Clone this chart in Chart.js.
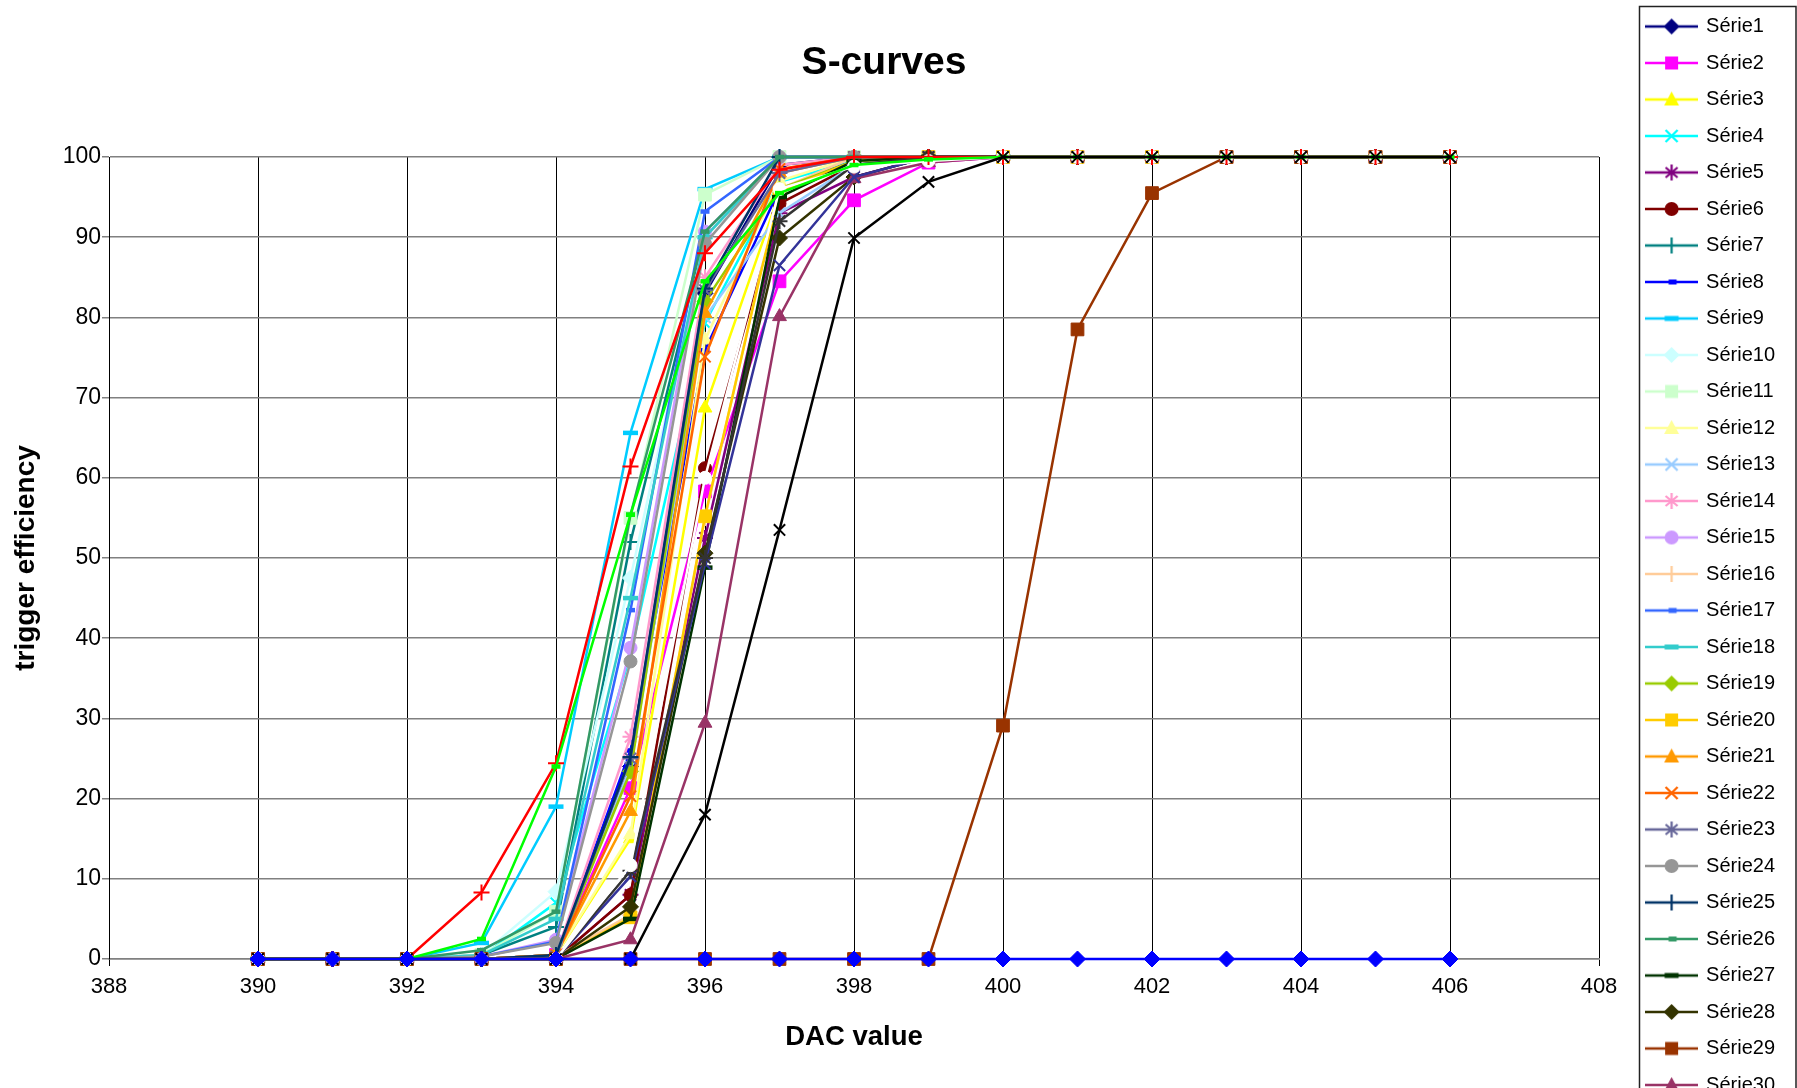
<!DOCTYPE html>
<html>
<head>
<meta charset="utf-8">
<script src="https://cdn.jsdelivr.net/npm/chart.js@4.4.1/dist/chart.umd.min.js"></script>
<style>
html,body{margin:0;padding:0;background:#fff;overflow:hidden;}
#wrap{width:1797px;height:1088px;overflow:hidden;position:relative;background:#fff;}
canvas{display:block;}
</style>
</head>
<body>
<div id="wrap"><canvas id="c" width="1797" height="1420"></canvas></div>
<script>
// ---------- data ----------
const chartTitle = 'S-curves';
const xAxisTitle = 'DAC value';
const yAxisTitle = 'trigger efficiency';
const dacValues = [390,391,392,393,394,395,396,397,398,399,400,401,402,403,404,405,406];
const seriesNames = ['Série1','Série2','Série3','Série4','Série5','Série6','Série7','Série8','Série9','Série10',
  'Série11','Série12','Série13','Série14','Série15','Série16','Série17','Série18','Série19','Série20',
  'Série21','Série22','Série23','Série24','Série25','Série26','Série27','Série28','Série29','Série30',
  'Série31','Série32','Série33','Série34','Série35','Série36','Série37'];

const serie1  = [0,0,0,0,0.5,24,83,99,100,100,100,100,100,100,100,100,100];
const serie2  = [0,0,0,0,0.5,21.3,58.3,84.5,94.6,99.3,100,100,100,100,100,100,100];
const serie3  = [0,0,0,0,0.5,15,68.7,95.5,99.5,100,100,100,100,100,100,100,100];
const serie4  = [0,0,0,0.3,7,38,79.3,96.9,99.5,100,100,100,100,100,100,100,100];
const serie5  = [0,0,0,0,0,8,52.5,93,97.5,100,100,100,100,100,100,100,100];
const serie6  = [0,0,0,0,0,8,61.2,94.2,99,100,100,100,100,100,100,100,100];
const serie7  = [0,0,0,0.5,4,52,90,100,100,100,100,100,100,100,100,100,100];
const serie8  = [0,0,0,0,0.5,26,75.9,96,99.5,100,100,100,100,100,100,100,100];
const serie9  = [0,0,0,2,19,65.6,96,100,100,100,100,100,100,100,100,100,100];
const serie10 = [0,0,0,0.5,8.4,47.5,90,100,100,100,100,100,100,100,100,100,100];
const serie11 = [0,0,0,0.5,5.9,55,95.3,100,100,100,100,100,100,100,100,100,100];
const serie12 = [0,0,0,0,0.5,15.5,77.2,97,100,100,100,100,100,100,100,100,100];
const serie13 = [0,0,0,0,0.3,24,80,93,99,100,100,100,100,100,100,100,100];
const serie14 = [0,0,0,0,0.5,27.7,85,99,100,100,100,100,100,100,100,100,100];
const serie15 = [0,0,0,0.3,2.4,38.8,90.7,100,100,100,100,100,100,100,100,100,100];
const serie16 = [0,0,0,0,0.3,5.5,55,96,100,100,100,100,100,100,100,100,100];
const serie17 = [0,0,0,0.3,2.2,43.5,93.2,100,100,100,100,100,100,100,100,100,100];
const serie18 = [0,0,0,0.5,5,45,90,100,100,100,100,100,100,100,100,100,100];
const serie19 = [0,0,0,0,0.5,23.4,82,96,99.5,100,100,100,100,100,100,100,100];
const serie20 = [0,0,0,0,0,5.2,55.2,95.7,99.5,100,100,100,100,100,100,100,100];
const serie21 = [0,0,0,0,0.5,18.4,80.5,98,100,100,100,100,100,100,100,100,100];
const serie22 = [0,0,0,0,0.5,20.3,75.1,98.5,100,100,100,100,100,100,100,100,100];
const serie23 = [0,0,0,0,0.3,25,83.4,98,100,100,100,100,100,100,100,100,100];
const serie24 = [0,0,0,0.3,2,37.1,89.2,100,100,100,100,100,100,100,100,100,100];
const serie25 = [0,0,0,0,0.5,25.2,83.6,100,100,100,100,100,100,100,100,100,100];
const serie26 = [0,0,0,1.1,5.9,55.4,90.7,100,100,100,100,100,100,100,100,100,100];
const serie27 = [0,0,0,0,0,5,48.8,95,99.5,100,100,100,100,100,100,100,100];
const serie28 = [0,0,0,0,0,6.5,50.6,89.9,97.5,100,100,100,100,100,100,100,100];
const serie29 = [0,0,0,0,0,0,0,0,0,0,29.1,78.5,95.5,100,100,100,100];
const serie30 = [0,0,0,0,0,2.4,29.4,80.1,97.3,99.3,100,100,100,100,100,100,100];
const serie31 = [0,0,0,0,0,10.3,49.3,86.5,97.5,100,100,100,100,100,100,100,100];
const serie32 = [0,0,0,0,0,11,50,92,99,100,100,100,100,100,100,100,100];
const serie33 = [0,0,0,0,0,11.7,60,96,98.8,99.5,100,100,100,100,100,100,100];
const serie34 = [0,0,0,8.3,24.4,61.4,88,98.4,100,100,100,100,100,100,100,100,100];
const serie35 = [0,0,0,2.5,24,55.4,84.5,95.5,99,99.7,100,100,100,100,100,100,100];
const serie36 = [0,0,0,0,0,0,18,53.5,89.9,96.9,100,100,100,100,100,100,100];
const serie37 = [0,0,0,0,0,0,0,0,0,0,0,0,0,0,0,0,0];

const seriesValues = [serie1,serie2,serie3,serie4,serie5,serie6,serie7,serie8,serie9,serie10,
  serie11,serie12,serie13,serie14,serie15,serie16,serie17,serie18,serie19,serie20,
  serie21,serie22,serie23,serie24,serie25,serie26,serie27,serie28,serie29,serie30,
  serie31,serie32,serie33,serie34,serie35,serie36,serie37];

// ---------- styles ----------
const seriesColors = ['#000080','#FF00FF','#FFFF00','#00FFFF','#800080','#800000','#008080','#0000FF','#00CCFF','#CCFFFF',
  '#CCFFCC','#FFFF99','#99CCFF','#FF99CC','#CC99FF','#FFCC99','#3366FF','#33CCCC','#99CC00','#FFCC00',
  '#FF9900','#FF6600','#666699','#969696','#003366','#339966','#003300','#333300','#993300','#993366',
  '#333399','#333333','#FFFFFF','#FF0000','#00FF00','#000000','#0000FF'];
const markerCycle = ['diamond','square','triangle','x','star','circle','plus','dash','longdash'];
const seriesMarkers = seriesColors.map((c,i)=>markerCycle[i%9]);
seriesMarkers[32]='circle'; seriesMarkers[33]='plus'; seriesMarkers[34]='dash'; seriesMarkers[35]='x'; seriesMarkers[36]='diamond';

const FONT = "'Liberation Sans', Arial, sans-serif";
const H = 1420, PLOT_LEFT = 109, PLOT_RIGHT = 1599, PLOT_TOP = 157, PLOT_BOTTOM = 959, PADR = 12;

const cjsStyle = {
  diamond:{pointStyle:'rectRot',r:8,bw:1},
  square:{pointStyle:'rect',r:9,bw:1},
  triangle:{pointStyle:'triangle',r:8,bw:1},
  x:{pointStyle:'crossRot',r:8,bw:2},
  star:{pointStyle:'star',r:8,bw:2},
  circle:{pointStyle:'circle',r:6.5,bw:1},
  plus:{pointStyle:'cross',r:8,bw:2},
  dash:{pointStyle:'line',r:4.5,bw:4.5},
  longdash:{pointStyle:'line',r:7.5,bw:4.5}
};

function drawMarker(g, m, cx, cy, color){
  g.fillStyle=color; g.strokeStyle=color; g.lineWidth=2.2;
  g.beginPath();
  switch(m){
    case 'diamond': g.moveTo(cx,cy-8);g.lineTo(cx+8,cy);g.lineTo(cx,cy+8);g.lineTo(cx-8,cy);g.closePath();g.fill();break;
    case 'square': g.fillRect(cx-6.5,cy-6.5,13,13);break;
    case 'triangle': g.moveTo(cx,cy-8);g.lineTo(cx+7.5,cy+6);g.lineTo(cx-7.5,cy+6);g.closePath();g.fill();break;
    case 'x': g.moveTo(cx-6,cy-6);g.lineTo(cx+6,cy+6);g.moveTo(cx+6,cy-6);g.lineTo(cx-6,cy+6);g.stroke();break;
    case 'star': g.moveTo(cx-6,cy-5);g.lineTo(cx+6,cy+5);g.moveTo(cx+6,cy-5);g.lineTo(cx-6,cy+5);g.moveTo(cx,cy-8);g.lineTo(cx,cy+8);g.stroke();break;
    case 'circle': g.arc(cx,cy,7,0,Math.PI*2);g.fill();break;
    case 'plus': g.moveTo(cx-8,cy);g.lineTo(cx+8,cy);g.moveTo(cx,cy-8);g.lineTo(cx,cy+8);g.stroke();break;
    case 'dash': g.fillRect(cx-3,cy-2.5,8,5);break;
    case 'longdash': g.fillRect(cx-7,cy-2.5,14,5);break;
  }
}
function legendSample(color, m){
  const c=document.createElement('canvas'); c.width=53; c.height=20;
  const g=c.getContext('2d');
  g.strokeStyle=color; g.lineWidth=2.5; g.beginPath(); g.moveTo(0,10); g.lineTo(53,10); g.stroke();
  drawMarker(g,m,26.5,10,color);
  return c;
}
const samples = seriesColors.map((c,i)=>legendSample(c, seriesMarkers[i]));

const datasets = seriesValues.map((vals,i)=>{
  const st = cjsStyle[seriesMarkers[i]];
  return {
    label: seriesNames[i],
    data: dacValues.map((x,k)=>({x:x,y:vals[k]})),
    borderColor: seriesColors[i],
    backgroundColor: seriesColors[i],
    borderWidth: 2.5,
    pointStyle: st.pointStyle,
    pointRadius: st.r,
    pointBorderWidth: st.bw,
    pointBackgroundColor: seriesColors[i],
    pointBorderColor: seriesColors[i],
    tension: 0,
    clip: false,
    order: -i
  };
});

const decorPlugin = {
  id:'decor',
  beforeDraw(chart){
    const ctx=chart.ctx;
    ctx.save();
    ctx.fillStyle='#fff'; ctx.fillRect(0,0,chart.width,chart.height);
    ctx.restore();
  },
  afterDraw(chart){
    const ctx=chart.ctx;
    ctx.save();
    ctx.fillStyle='#000';
    ctx.font='bold 39px '+FONT;
    ctx.textAlign='center'; ctx.textBaseline='middle';
    ctx.fillText(chartTitle, 884, 63);
    ctx.strokeStyle='#222'; ctx.lineWidth=1.5;
    ctx.strokeRect(1639.5,6.5,156.5,1500);
    ctx.restore();
  }
};

new Chart(document.getElementById('c'), {
  type:'line',
  data:{datasets:datasets},
  plugins:[decorPlugin],
  options:{
    responsive:false,
    devicePixelRatio:1,
    animation:false,
    events:[],
    layout:{padding:{top:0,left:0,bottom:0,right:PADR}},
    plugins:{
      title:{display:false},
      tooltip:{enabled:false},
      legend:{
        display:true, position:'right', align:'start',
        labels:{
          usePointStyle:true, pointStyleWidth:49, padding:16.5, color:'#000',
          font:{family:FONT,size:20},
          generateLabels:(chart)=>chart.data.datasets.map((ds,i)=>({
            text:ds.label, pointStyle:samples[i], fillStyle:ds.borderColor, strokeStyle:ds.borderColor,
            lineWidth:0, hidden:false, datasetIndex:i
          }))
        }
      }
    },
    scales:{
      x:{
        type:'linear', position:'bottom', min:388, max:408,
        ticks:{stepSize:2, color:'#000', font:{family:FONT,size:22}, padding:8, maxRotation:0, autoSkip:false},
        grid:{color:'#000', lineWidth:1, tickLength:7},
        border:{color:'#808080', width:1.5},
        title:{display:true, text:xAxisTitle, color:'#000', font:{family:FONT,size:27.5,weight:'bold'}, padding:{top:0,bottom:H-16.5-1037}},
        afterFit:(s)=>{s.height = H - PLOT_BOTTOM;}
      },
      y:{
        type:'linear', position:'left', min:0, max:100,
        ticks:{stepSize:10, color:'#000', font:{family:FONT,size:23}, padding:1},
        grid:{color:'#808080', lineWidth:1.5, tickLength:7},
        border:{color:'#000', width:1},
        title:{display:true, text:yAxisTitle, color:'#000', font:{family:FONT,size:28,weight:'bold'}, padding:{top:9,bottom:0}},
        afterFit:(s)=>{s.width = PLOT_LEFT;}
      },
      xTop:{
        type:'linear', position:'top', display:true,
        ticks:{display:false}, grid:{display:false, drawTicks:false}, border:{display:false},
        afterFit:(s)=>{s.height = PLOT_TOP;}
      },
      yRight:{
        type:'linear', position:'right', display:true,
        ticks:{display:false}, grid:{display:false, drawTicks:false}, border:{display:false},
        afterFit:(s)=>{ const lg=s.chart.legend; const w = lg ? lg.width : 150; s.width = Math.max(0, 1797 - PADR - w - PLOT_RIGHT); }
      }
    }
  }
});
</script>
</body>
</html>
